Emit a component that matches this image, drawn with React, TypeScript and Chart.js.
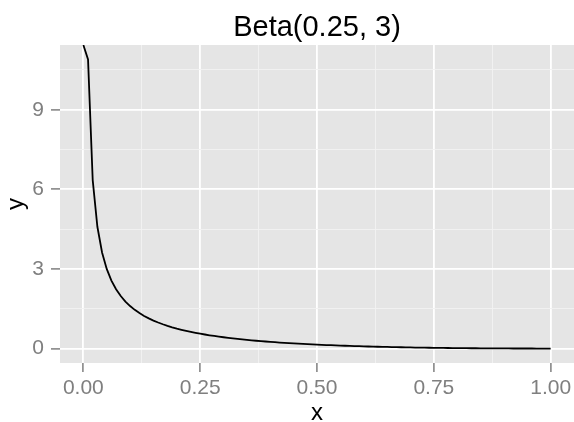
import React, { useEffect, useRef } from "react";
import { Chart, registerables } from "chart.js";

Chart.register(...registerables);

const TITLE = "Beta(0.25, 3)";
const X_TITLE = "x";
const Y_TITLE = "y";

const xValues = [
  0, 0.01, 0.02, 0.03, 0.04, 0.05, 0.06, 0.07, 0.08, 0.09,
  0.1, 0.11, 0.12, 0.13, 0.14, 0.15, 0.16, 0.17, 0.18, 0.19,
  0.2, 0.21, 0.22, 0.23, 0.24, 0.25, 0.26, 0.27, 0.28, 0.29,
  0.3, 0.31, 0.32, 0.33, 0.34, 0.35, 0.36, 0.37, 0.38, 0.39,
  0.4, 0.41, 0.42, 0.43, 0.44, 0.45, 0.46, 0.47, 0.48, 0.49,
  0.5, 0.51, 0.52, 0.53, 0.54, 0.55, 0.56, 0.57, 0.58, 0.59,
  0.6, 0.61, 0.62, 0.63, 0.64, 0.65, 0.66, 0.67, 0.68, 0.69,
  0.7, 0.71, 0.72, 0.73, 0.74, 0.75, 0.76, 0.77, 0.78, 0.79,
  0.8, 0.81, 0.82, 0.83, 0.84, 0.85, 0.86, 0.87, 0.88, 0.89,
  0.9, 0.91, 0.92, 0.93, 0.94, 0.95, 0.96, 0.97, 0.98, 0.99,
  1.0,
];

// density values; the first one is unbounded (drawn at the panel's top edge)
const yValues = [
  Infinity, 10.896, 6.3486, 4.5888, 3.6224, 3.0007, 2.5623, 2.2343, 1.9781, 1.7717,
  1.6013, 1.4579, 1.3353, 1.2291, 1.136, 1.0538, 0.9805, 0.9148, 0.8554, 0.8015,
  0.7523, 0.7073, 0.6658, 0.6276, 0.5922, 0.5593, 0.5287, 0.5002, 0.4735, 0.4485,
  0.425, 0.4029, 0.3821, 0.3625, 0.3439, 0.3264, 0.3098, 0.2941, 0.2792, 0.2651,
  0.2516, 0.2388, 0.2267, 0.2151, 0.2041, 0.1936, 0.1835, 0.174, 0.1648, 0.1561,
  0.1478, 0.1399, 0.1323, 0.125, 0.1181, 0.1115, 0.1051, 0.0991, 0.0933, 0.0878,
  0.0825, 0.0775, 0.0727, 0.0681, 0.0637, 0.0595, 0.0555, 0.0517, 0.0481, 0.0446,
  0.0413, 0.0382, 0.0353, 0.0325, 0.0298, 0.0273, 0.0249, 0.0226, 0.0205, 0.0185,
  0.0166, 0.0149, 0.0132, 0.0117, 0.0103, 0.0089, 0.0077, 0.0066, 0.0056, 0.0046,
  0.0038, 0.0031, 0.0024, 0.0018, 0.0013, 0.0009, 0.0006, 0.0003, 0.0001, 0.0,
  0,
];

const xMajorTicks = [0, 0.25, 0.5, 0.75, 1];
const xTickLabels = ["0.00", "0.25", "0.50", "0.75", "1.00"];
const xMinorTicks = [0.125, 0.375, 0.625, 0.875];
const yMajorTicks = [0, 3, 6, 9];
const yTickLabels = ["0", "3", "6", "9"];
const yMinorTicks = [1.5, 4.5, 7.5, 10.5];
const xLimits = [-0.05, 1.05];
const yLimits = [-0.545, 11.44];

const FONT = "'Liberation Sans', Arial, Helvetica, sans-serif";
const PANEL_BG = "#E5E5E5";
const GRID_MAJOR = "#FFFFFF";
const GRID_MINOR = "#F2F2F2";
const AXIS_GREY = "#7F7F7F";

function isIn(list: number[], v: number) {
  return list.some((t) => Math.abs(t - v) < 1e-9);
}

export default function App() {
  const canvasRef = useRef<HTMLCanvasElement | null>(null);

  useEffect(() => {
    document.body.style.margin = "0";
    const canvas = canvasRef.current;
    if (!canvas) return;

    const points = xValues.map((x, i) => ({
      x,
      y: Number.isFinite(yValues[i]) ? yValues[i] : yLimits[1],
    }));

    const panelPlugin = {
      id: "panelBg",
      beforeDraw(chart: any) {
        const { ctx, chartArea } = chart;
        ctx.save();
        ctx.fillStyle = PANEL_BG;
        ctx.fillRect(
          chartArea.left,
          chartArea.top,
          chartArea.right - chartArea.left,
          chartArea.bottom - chartArea.top
        );
        ctx.restore();
      },
    };

    const textPlugin = {
      id: "ggTexts",
      afterDraw(chart: any) {
        const { ctx, chartArea } = chart;
        const cx = (chartArea.left + chartArea.right) / 2;
        const cy = (chartArea.top + chartArea.bottom) / 2;
        ctx.save();
        ctx.fillStyle = "#000000";
        ctx.textAlign = "center";
        ctx.textBaseline = "alphabetic";
        ctx.font = `29px ${FONT}`;
        ctx.fillText(TITLE, cx, 35.5);
        ctx.font = `24px ${FONT}`;
        ctx.fillText(X_TITLE, cx, 420);
        ctx.translate(23, cy);
        ctx.rotate(-Math.PI / 2);
        ctx.fillText(Y_TITLE, 0, 0);
        ctx.restore();
      },
    };

    const gridFor = (major: number[]) => ({
      display: true,
      drawOnChartArea: true,
      drawTicks: true,
      tickLength: 9,
      color: (c: any) => (isIn(major, c.tick?.value) ? GRID_MAJOR : GRID_MINOR),
      lineWidth: (c: any) => (isIn(major, c.tick?.value) ? 1.8 : 0.9),
      tickColor: (c: any) => (isIn(major, c.tick?.value) ? AXIS_GREY : "rgba(0,0,0,0)"),
      tickWidth: (c: any) => (isIn(major, c.tick?.value) ? 1.5 : 0.01),
    });

    const chart = new Chart(canvas, {
      type: "line",
      data: {
        datasets: [
          {
            data: points,
            borderColor: "#000000",
            borderWidth: 1.8,
            pointRadius: 0,
            tension: 0,
            fill: false,
          },
        ],
      },
      options: {
        animation: false,
        responsive: false,
        maintainAspectRatio: false,
        layout: { padding: { top: 45, left: 0, right: -2, bottom: 0 } },
        plugins: {
          legend: { display: false },
          title: { display: false },
          tooltip: { enabled: false },
        },
        scales: {
          x: {
            type: "linear",
            min: xLimits[0],
            max: xLimits[1],
            border: { display: false },
            grid: gridFor(xMajorTicks) as any,
            afterBuildTicks: (s: any) => {
              s.ticks = [...xMajorTicks, ...xMinorTicks]
                .sort((a, b) => a - b)
                .map((v) => ({ value: v }));
            },
            afterFit: (s: any) => {
              s.height = 59;
              s.paddingLeft = 0;
              s.paddingRight = 0;
            },
            ticks: {
              autoSkip: false,
              maxRotation: 0,
              minRotation: 0,
              padding: 3.5,
              color: AXIS_GREY,
              font: { family: FONT, size: 21 },
              callback: (v: any) => {
                const i = xMajorTicks.findIndex((t) => Math.abs(t - Number(v)) < 1e-9);
                return i >= 0 ? xTickLabels[i] : "";
              },
            },
          },
          y: {
            type: "linear",
            min: yLimits[0],
            max: yLimits[1],
            border: { display: false },
            grid: gridFor(yMajorTicks) as any,
            afterBuildTicks: (s: any) => {
              s.ticks = [...yMajorTicks, ...yMinorTicks]
                .sort((a, b) => a - b)
                .map((v) => ({ value: v }));
            },
            afterFit: (s: any) => {
              s.width = 60;
              s.paddingTop = 0;
              s.paddingBottom = 0;
            },
            ticks: {
              autoSkip: false,
              padding: 7,
              color: AXIS_GREY,
              font: { family: FONT, size: 21 },
              callback: (v: any) => {
                const i = yMajorTicks.findIndex((t) => Math.abs(t - Number(v)) < 1e-9);
                return i >= 0 ? yTickLabels[i] : "";
              },
            },
          },
        },
      },
      plugins: [panelPlugin, textPlugin],
    });

    return () => {
      chart.destroy();
    };
  }, []);

  return (
    <div style={{ width: 574, height: 422 }}>
      <canvas ref={canvasRef} width={574} height={422} style={{ display: "block" }} />
    </div>
  );
}
